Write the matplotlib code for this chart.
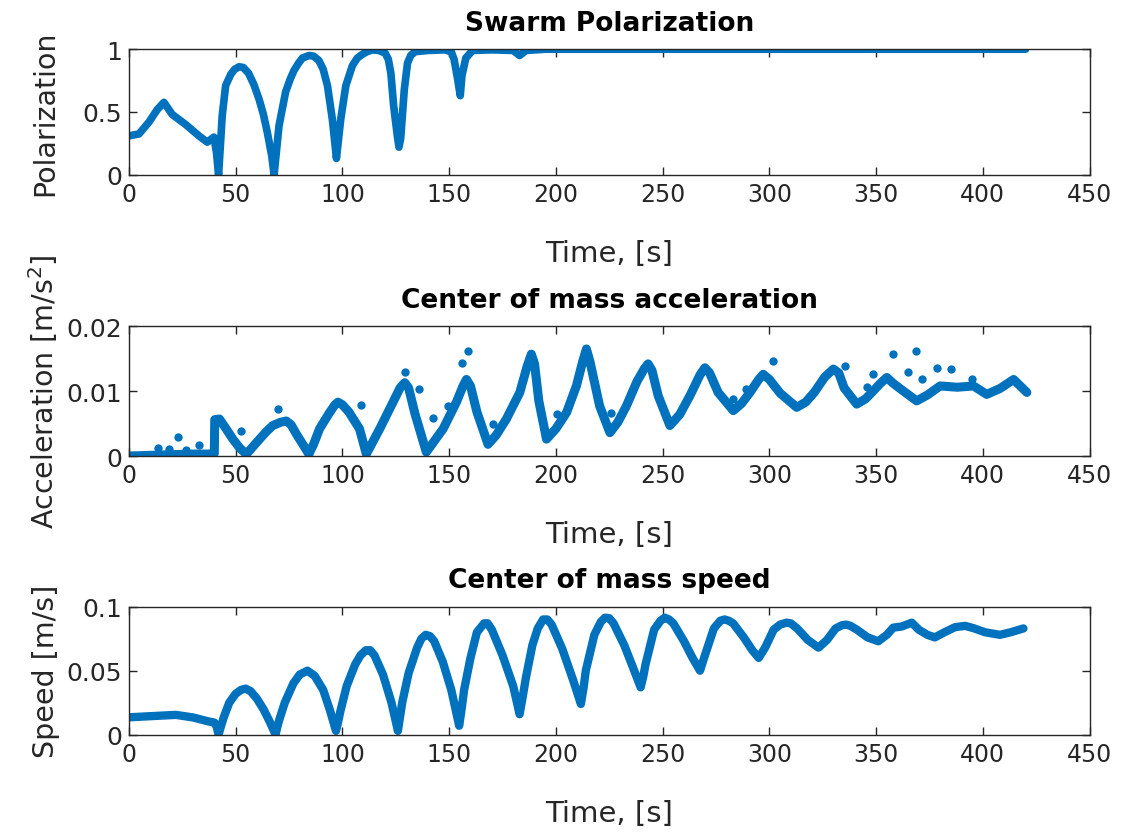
import numpy as np
import matplotlib
matplotlib.use("Agg")
from matplotlib import pyplot as plt

# values
pol_t = [0, 4.7, 9.4, 13.3, 16.4, 20.3, 26.6, 32.8, 36.7, 39.8, 41, 42,
         43.7, 45.3, 47.7, 49.5, 51.6, 53.5, 56, 58.5, 61, 63, 64.8, 66.9, 68,
         70.3, 73.4, 75.5, 77.3, 79.5, 81.3, 84.4, 86.5, 89, 91, 93, 95.3, 96.6, 97.2,
         99.2, 101.6, 104.7, 107, 109.4, 111.5, 114, 117, 120, 121.5, 122.7, 124, 125.8, 126.5,
         127.3, 129, 130.5, 132, 134, 140, 148, 151, 152.3, 154, 155.2, 156, 157.8, 161,
         170, 180, 183, 186, 195, 250, 300, 350, 420]
pol_v = [0.31, 0.325, 0.42, 0.52, 0.577, 0.48, 0.40, 0.31, 0.26, 0.30, 0.18, 0.0,
         0.47, 0.71, 0.80, 0.84, 0.86, 0.855, 0.81, 0.72, 0.60, 0.48, 0.34, 0.15, 0.0,
         0.39, 0.66, 0.76, 0.83, 0.89, 0.93, 0.95, 0.945, 0.91, 0.84, 0.71, 0.44, 0.23, 0.13,
         0.44, 0.71, 0.87, 0.93, 0.96, 0.98, 0.995, 0.99, 0.97, 0.92, 0.81, 0.55, 0.30, 0.22,
         0.29, 0.68, 0.89, 0.95, 0.98, 0.99, 0.995, 0.98, 0.92, 0.76, 0.63, 0.79, 0.93, 0.99,
         0.995, 0.99, 0.95, 0.99, 1.0, 1.0, 1.0, 1.0, 1.0]

acc_t = [0, 10, 20, 30, 37.7, 40, 40.2, 42.4, 45.5, 48.7, 52, 55,
         58, 61.2, 64.5, 67.4, 71, 73.7, 76, 78.4, 84.3, 86.5, 89.3, 94, 96.5, 97.9, 100, 103, 108, 111.2,
         117.5, 123.7, 127, 129.2, 131, 134, 139.3, 147.2, 153.4, 156.5, 158.1, 160, 163, 168.2,
         172, 176.8, 183.1, 186.5, 188.5, 190, 192, 195.6, 200, 205, 209.6, 212.5, 214.3, 216, 220.5, 225.3,
         229, 233, 238, 241.5, 243.2, 245, 247.9, 253.4, 258, 262.8, 267.5, 269.8, 272, 276, 283.1,
         287, 290.9, 295, 297.1, 300, 305, 312.8, 317, 321, 326, 330, 332.5, 335, 340.9, 345, 348,
         352, 355, 358, 362, 369, 374, 380, 388,
         395.6, 401.8, 408, 414.4, 420.6]
acc_v = [0.0, 0.0001, 0.0002, 0.0003, 0.0003, 0.0004, 0.0056, 0.0057, 0.0042, 0.0026, 0.0012, 0.0003,
         0.0014, 0.0026, 0.0038, 0.0047, 0.0052, 0.0054, 0.0048, 0.0034, 0.0003, 0.0018, 0.0042, 0.0067, 0.0079, 0.0083, 0.0079, 0.0068, 0.0042, 0.0003,
         0.0042, 0.0083, 0.0105, 0.0113, 0.0105, 0.0065, 0.0006, 0.0042, 0.0083, 0.0108, 0.0118, 0.0108, 0.0068, 0.0018,
         0.0032, 0.0057, 0.0098, 0.0138, 0.0157, 0.0142, 0.0085, 0.0026, 0.0042, 0.0067, 0.0108, 0.0145, 0.0165, 0.0145, 0.0077, 0.0036,
         0.0052, 0.0077, 0.0115, 0.0135, 0.0142, 0.0132, 0.0093, 0.0047, 0.0064, 0.0093, 0.0125, 0.0136, 0.0128, 0.0098, 0.007,
         0.0081, 0.0098, 0.0118, 0.0126, 0.0118, 0.0097, 0.0075, 0.0083, 0.0098, 0.0122, 0.0134, 0.0128, 0.0105, 0.008, 0.0088, 0.0098,
         0.0112, 0.0121, 0.0112, 0.0102, 0.0085, 0.0094, 0.0108, 0.0106,
         0.0108, 0.0095, 0.0104, 0.0118, 0.0098]

# stray samples off the main trace
acc_out_t = [13.5, 19, 22.9, 26.8, 33, 52.6, 69.8, 108.8, 129.5, 136, 142.4, 149.5,
             155.8, 158.8, 170.6, 200.3, 226, 283, 289, 301.9, 335.4, 345.6,
             348.7, 358, 365, 368.7, 371.4, 378.4, 385, 394.8]
acc_out_v = [0.0013, 0.0011, 0.0029, 0.001, 0.0017, 0.0039, 0.0072, 0.0078, 0.0129, 0.0103, 0.0059, 0.0077,
             0.0144, 0.0162, 0.0049, 0.0065, 0.0067, 0.0088, 0.0103, 0.0147, 0.0139, 0.0106,
             0.0126, 0.0157, 0.0129, 0.0162, 0.0119, 0.0135, 0.0134, 0.0118]

spd_t = [0, 10, 22, 30, 37, 40, 41, 42,
         43, 44.5, 47, 50, 52.5, 54.7, 57, 60, 63, 66, 68.7,
         69.5, 70.5, 73, 77, 80, 83.6, 87, 91, 94, 97,
         98, 99, 102, 106, 108.5, 111, 113, 115, 119, 123, 126,
         127, 128, 131, 135, 137, 139, 141, 143, 147, 151, 154.7,
         156, 157, 160, 163, 166.4, 168, 170, 175, 180, 183,
         184.5, 186, 189, 191.5, 194, 196, 198, 203, 208, 211.7,
         213, 214, 218, 221, 223, 225, 227, 232, 236, 239.7,
         241, 242, 246, 249, 251, 253, 255, 260, 264, 267.5,
         270, 274, 277, 279, 281, 283, 288, 292, 295,
         298, 302, 305, 308, 310, 313, 318, 323,
         327, 331, 334, 336, 338, 341, 346, 351,
         355, 358, 362, 366.7, 370, 374, 377.5,
         382, 387, 391.7, 396, 401, 408, 413, 419]
spd_v = [0.0136, 0.0145, 0.0155, 0.0135, 0.0105, 0.0095, 0.007, 0.0,
         0.006, 0.014, 0.025, 0.032, 0.035, 0.036, 0.034, 0.028, 0.02, 0.01, 0.0,
         0.006, 0.012, 0.025, 0.04, 0.047, 0.050, 0.046, 0.035, 0.02, 0.003,
         0.01, 0.018, 0.038, 0.055, 0.062, 0.066, 0.066, 0.062, 0.047, 0.025, 0.003,
         0.014, 0.025, 0.048, 0.068, 0.075, 0.078, 0.077, 0.073, 0.057, 0.035, 0.007,
         0.022, 0.035, 0.06, 0.08, 0.087, 0.087, 0.082, 0.062, 0.038, 0.016,
         0.03, 0.045, 0.07, 0.083, 0.090, 0.090, 0.086, 0.067, 0.043, 0.024,
         0.037, 0.05, 0.078, 0.088, 0.0914, 0.091, 0.087, 0.07, 0.053, 0.037,
         0.046, 0.055, 0.082, 0.089, 0.0914, 0.09, 0.087, 0.073, 0.06, 0.050,
         0.063, 0.083, 0.089, 0.090, 0.089, 0.087, 0.076, 0.066, 0.060,
         0.068, 0.082, 0.086, 0.0875, 0.087, 0.083, 0.074, 0.068,
         0.074, 0.083, 0.0855, 0.086, 0.085, 0.082, 0.076, 0.073,
         0.078, 0.0836, 0.0845, 0.0875, 0.082, 0.078, 0.076,
         0.08, 0.084, 0.085, 0.083, 0.08, 0.078, 0.080, 0.083]

blue = '#0072BD'
dark = '#262626'
plt.rcParams['font.family'] = ['DejaVu Sans']

fig = plt.figure(figsize=(11.21, 8.37), dpi=100)
L, W = 0.115, 0.857
ax1 = fig.add_axes([L, 0.790, W, 0.150])
ax2 = fig.add_axes([L, 0.454, W, 0.155])
ax3 = fig.add_axes([L, 0.121, W, 0.153])

line_kw = dict(color=blue, solid_joinstyle='round', solid_capstyle='round')
ax1.plot(pol_t, pol_v, lw=5.5, **line_kw)
ax2.plot(acc_t, acc_v, lw=6.5, **line_kw)
ax2.plot(acc_out_t, acc_out_v, 'o', color=blue, ms=6, mew=0)
ax3.plot(spd_t, spd_v, lw=6, **line_kw)

setup = [
    (ax1, 'Swarm Polarization', 'Polarization', (0, 1), [0, 0.5, 1], ['0', '0.5', '1']),
    (ax2, 'Center of mass acceleration', 'Acceleration [m/s$^2$]', (0, 0.02), [0, 0.01, 0.02], ['0', '0.01', '0.02']),
    (ax3, 'Center of mass speed', 'Speed [m/s]', (0, 0.1), [0, 0.05, 0.1], ['0', '0.05', '0.1']),
]
for ax, title, ylab, ylim, yt, ytl in setup:
    ax.set_xlim(0, 450)
    ax.set_ylim(*ylim)
    ax.set_xticks(np.arange(0, 451, 50))
    ax.set_yticks(yt)
    ax.set_yticklabels(ytl)
    ax.tick_params(direction='in', length=6, width=1, colors=dark, labelsize=17,
                   top=True, right=True, pad=5)
    ax.tick_params(axis='y', labelsize=18)
    for s in ax.spines.values():
        s.set_color(dark)
        s.set_linewidth(1)
    ax.set_title(title, fontsize=19, fontweight='bold', color='black', pad=14)
    ax.set_xlabel('Time, [s]', fontsize=21, color=dark, labelpad=24)
    ax.set_ylabel(ylab, fontsize=20.5, color=dark)
    ax.yaxis.set_label_coords(-0.072, 0.5)

fig.savefig('out.png', dpi=100, facecolor='white')
